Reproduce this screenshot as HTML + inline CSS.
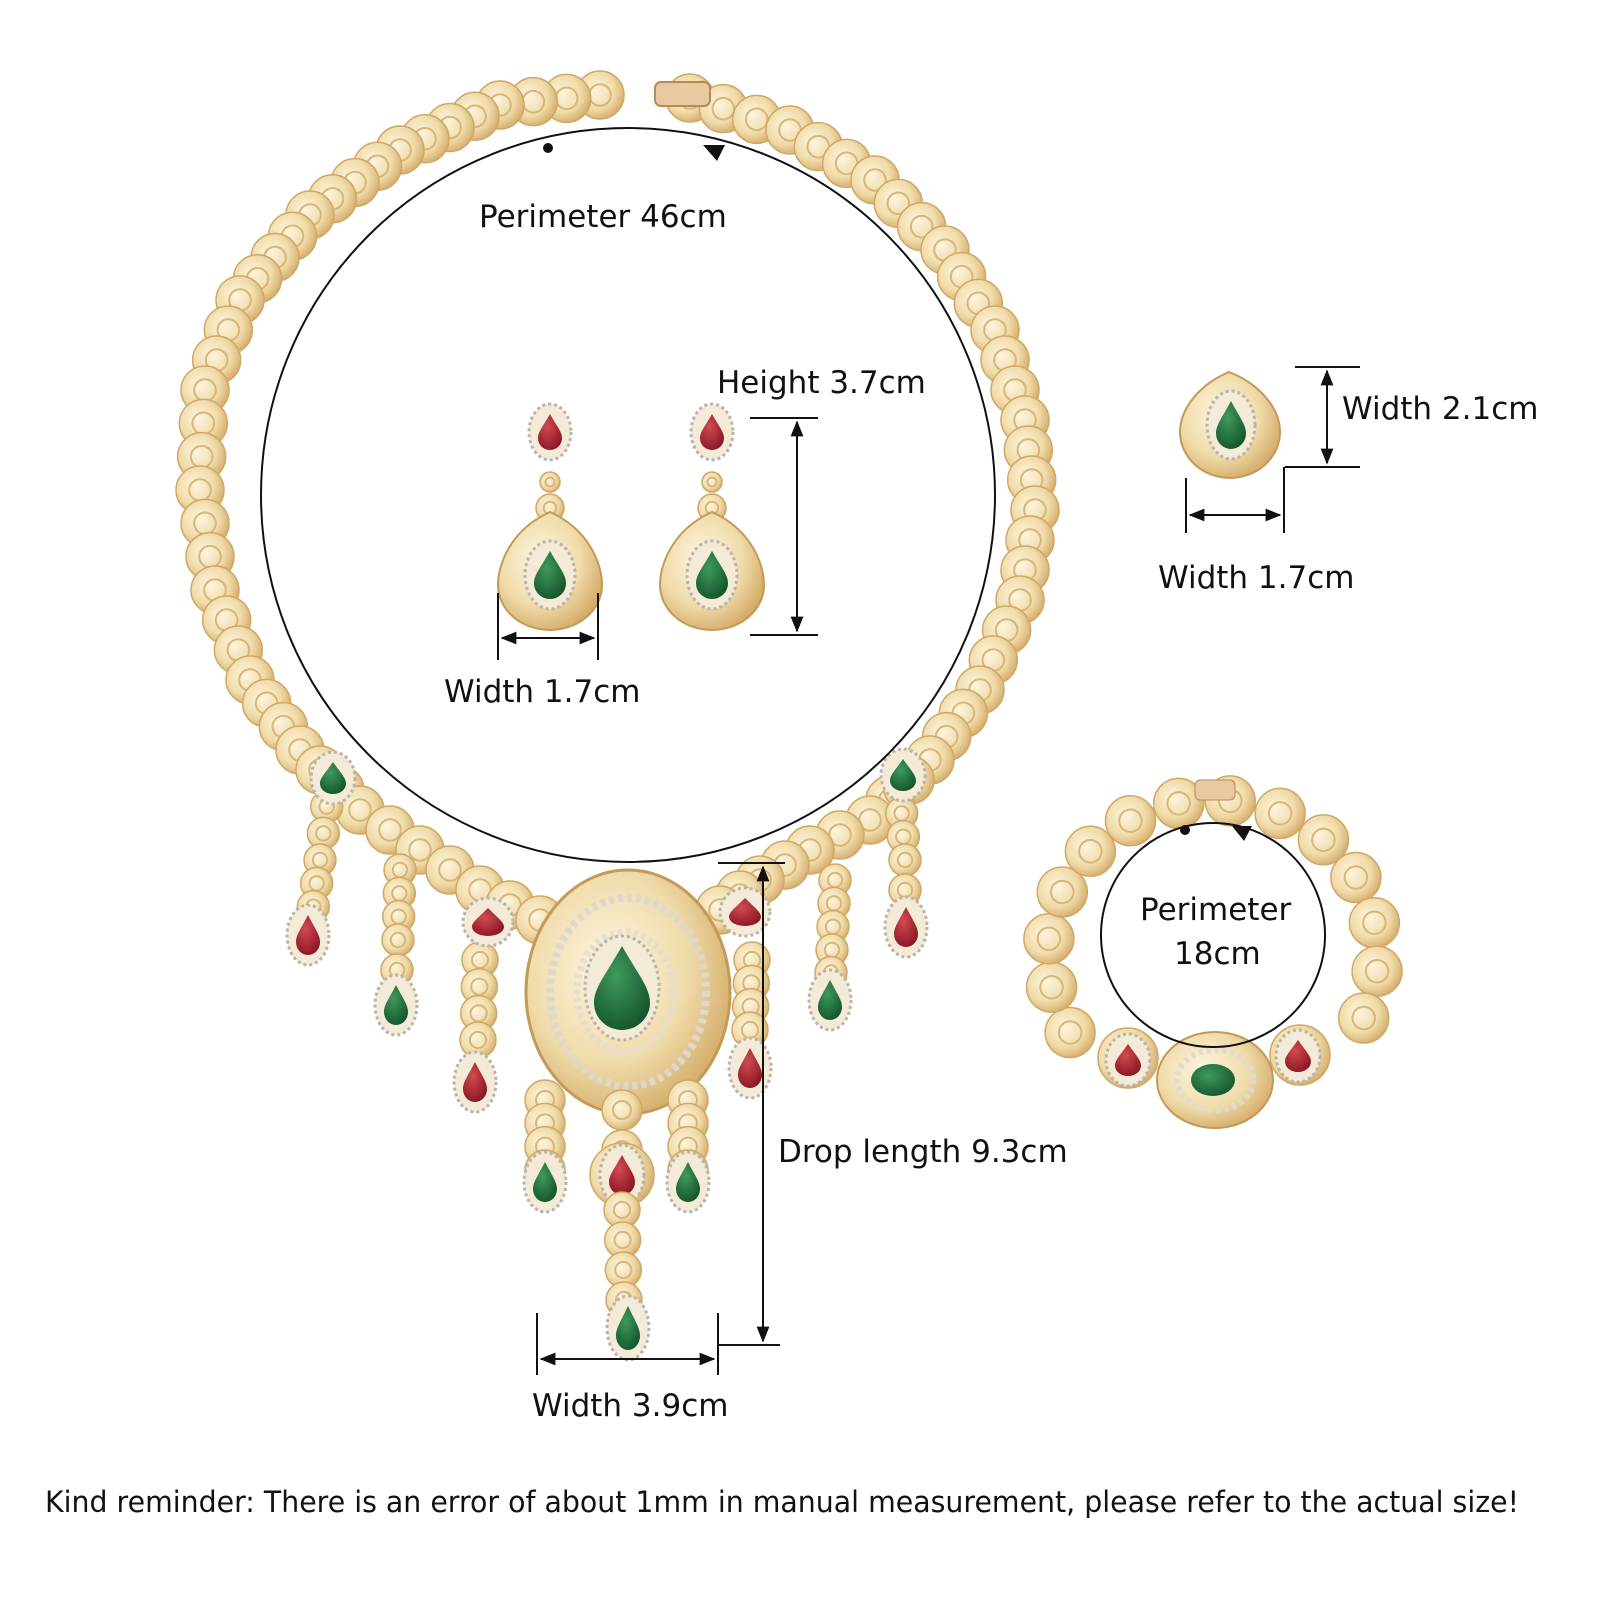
<!DOCTYPE html>
<html><head><meta charset="utf-8"><style>
html,body{margin:0;padding:0;background:#fff}
svg{display:block}
text{font-family:"DejaVu Sans","Liberation Sans",sans-serif;fill:#111}
</style></head><body>
<svg id="s" width="1600" height="1600" viewBox="0 0 1600 1600" xmlns="http://www.w3.org/2000/svg">
<defs>
<radialGradient id="g" cx="40%" cy="40%" r="65%"><stop offset="0" stop-color="#fdf5e0"/><stop offset="0.6" stop-color="#f0dcaa"/><stop offset="1" stop-color="#d3ab68"/></radialGradient>
<radialGradient id="gr" cx="40%" cy="35%" r="70%"><stop offset="0" stop-color="#3f9a5c"/><stop offset="1" stop-color="#14552d"/></radialGradient>
<radialGradient id="rd" cx="40%" cy="35%" r="70%"><stop offset="0" stop-color="#d24a52"/><stop offset="1" stop-color="#8a1624"/></radialGradient>
<marker id="ar" viewBox="0 0 10 10" refX="9" refY="5" markerWidth="8" markerHeight="8" orient="auto-start-reverse"><path d="M0,1 L10,5 L0,9 z" fill="#111"/></marker>
</defs>
<g id="jew"></g>
<g fill="none" stroke="#111" stroke-width="2">
<ellipse cx="628" cy="495" rx="367" ry="367"/>
<circle cx="1213" cy="935" r="112"/>
<line x1="750" y1="418" x2="818" y2="418"/><line x1="750" y1="635" x2="818" y2="635"/>
<line x1="797" y1="422" x2="797" y2="631" marker-start="url(#ar)" marker-end="url(#ar)"/>
<line x1="498" y1="593" x2="498" y2="660"/><line x1="598" y1="593" x2="598" y2="660"/>
<line x1="502" y1="638" x2="594" y2="638" marker-start="url(#ar)" marker-end="url(#ar)"/>
<line x1="1295" y1="367" x2="1360" y2="367"/><line x1="1285" y1="467" x2="1360" y2="467"/>
<line x1="1327" y1="371" x2="1327" y2="463" marker-start="url(#ar)" marker-end="url(#ar)"/>
<line x1="1186" y1="478" x2="1186" y2="533"/><line x1="1284" y1="467" x2="1284" y2="533"/>
<line x1="1190" y1="515" x2="1280" y2="515" marker-start="url(#ar)" marker-end="url(#ar)"/>
<line x1="718" y1="863" x2="785" y2="863"/><line x1="718" y1="1345" x2="780" y2="1345"/>
<line x1="763" y1="867" x2="763" y2="1341" marker-start="url(#ar)" marker-end="url(#ar)"/>
<line x1="537" y1="1313" x2="537" y2="1375"/><line x1="718" y1="1313" x2="718" y2="1375"/>
<line x1="541" y1="1359" x2="714" y2="1359" marker-start="url(#ar)" marker-end="url(#ar)"/>
</g>
<circle cx="548" cy="148" r="5" fill="#111"/>
<path d="M703,145 l22,0 l-8,16 z" fill="#111"/>
<circle cx="1185" cy="830" r="5" fill="#111"/>
<path d="M1232,826 l20,0 l-8,15 z" fill="#111"/>
<text x="479" y="227" font-size="31">Perimeter 46cm</text>
<text x="717" y="393" font-size="31">Height 3.7cm</text>
<text x="444" y="702" font-size="31">Width 1.7cm</text>
<text x="1342" y="419" font-size="31">Width 2.1cm</text>
<text x="1158" y="588" font-size="31">Width 1.7cm</text>
<text x="1140" y="920" font-size="31">Perimeter</text>
<text x="1174" y="964" font-size="31">18cm</text>
<text x="778" y="1162" font-size="31">Drop length 9.3cm</text>
<text x="532" y="1416" font-size="31">Width 3.9cm</text>
<text x="45" y="1512" font-size="29" textLength="1474" lengthAdjust="spacingAndGlyphs">Kind reminder: There is an error of about 1mm in manual measurement, please refer to the actual size!</text>
</svg>
<script>
const NS="http://www.w3.org/2000/svg",J=document.getElementById('jew');
function el(t,a){const e=document.createElementNS(NS,t);for(const k in a)e.setAttribute(k,a[k]);J.appendChild(e);return e;}
function bead(x,y,r){el('circle',{cx:x,cy:y,r:r,fill:'url(#g)',stroke:'#d0a766','stroke-width':1.5});el('circle',{cx:x,cy:y,r:r*0.45,fill:'none',stroke:'#d9b677','stroke-width':2});}
function chain(pts,step,r){for(let i=0;i<pts.length-1;i++){const[a,b]=pts[i],[c,d]=pts[i+1];const L=Math.hypot(c-a,d-b),n=Math.max(1,Math.round(L/step));for(let j=0;j<n;j++){bead(a+(c-a)*j/n,b+(d-b)*j/n,r);}}bead(...pts[pts.length-1],r);}
function drop(x,y,rx,ry,fill){el('ellipse',{cx:x,cy:y,rx:rx+9,ry:ry+10,fill:'#f3ead8',stroke:'#b9b3a8','stroke-width':3,'stroke-dasharray':'3 3'});
 el('path',{d:`M${x},${y-ry} C${x+rx*0.6},${y-ry*0.3} ${x+rx},${y} ${x+rx},${y+ry*0.35} A${rx},${ry*0.65} 0 0 1 ${x-rx},${y+ry*0.35} C${x-rx},${y} ${x-rx*0.6},${y-ry*0.3} ${x},${y-ry}z`,fill:fill});}
const L=[[600,95],[500,105],[400,150],[310,215],[240,300],[205,390],[200,490],[215,590],[250,680],[300,750],[360,810],[420,850],[480,890],[540,920]];
const R=[[690,98],[790,130],[875,180],[945,250],[995,330],[1025,420],[1035,510],[1020,600],[980,690],[930,760],[870,820],[810,850],[760,880],[720,910]];
chain(L,30,24);chain(R,30,24);
el('rect',{x:655,y:82,width:55,height:24,rx:6,fill:'#e8c9a0',stroke:'#b88a5a','stroke-width':2});
chain([[330,780],[320,860],[310,930]],28,16);drop(308,935,12,20,'url(#rd)');
chain([[400,870],[398,940],[396,1000]],28,16);drop(396,1005,12,20,'url(#gr)');
chain([[480,960],[478,1040],[475,1078]],28,18);drop(475,1082,12,20,'url(#rd)');
chain([[900,790],[905,860],[905,920]],28,16);drop(906,927,12,20,'url(#rd)');
chain([[835,880],[832,950],[830,995]],28,16);drop(830,1000,12,20,'url(#gr)');
chain([[752,960],[750,1030],[750,1062]],28,18);drop(750,1068,12,20,'url(#rd)');
drop(333,778,13,16,'url(#gr)');drop(903,775,13,16,'url(#gr)');
drop(488,922,16,14,'url(#rd)');drop(745,912,16,14,'url(#rd)');
el('ellipse',{cx:628,cy:992,rx:102,ry:122,fill:'url(#g)',stroke:'#c49a58','stroke-width':3});
el('ellipse',{cx:628,cy:992,rx:78,ry:94,fill:'none',stroke:'#ddd8cf','stroke-width':8,'stroke-dasharray':'5 4'});
el('ellipse',{cx:625,cy:992,rx:48,ry:60,fill:'none',stroke:'#e3ddd2','stroke-width':7,'stroke-dasharray':'4 4'});
drop(622,988,28,42,'url(#gr)');
chain([[545,1100],[545,1170]],28,20);drop(545,1182,12,20,'url(#gr)');
chain([[688,1100],[688,1170]],28,20);drop(688,1182,12,20,'url(#gr)');
chain([[622,1110],[622,1150]],28,20);bead(622,1175,32);drop(622,1175,13,20,'url(#rd)');
chain([[622,1210],[624,1300]],26,18);drop(628,1328,12,22,'url(#gr)');
for(const x of [550,712]){drop(x,432,12,18,'url(#rd)');bead(x,482,10);bead(x,508,14);
 el('path',{d:`M${x},512 C${x+40},530 ${x+52},565 ${x+52},585 A52,45 0 0 1 ${x-52},585 C${x-52},565 ${x-40},530 ${x},512z`,fill:'url(#g)',stroke:'#c49a58','stroke-width':2});
 drop(x,575,16,24,'url(#gr)');}
el('path',{d:'M1229,372 C1262,385 1280,410 1280,432 A50,46 0 0 1 1180,432 C1180,410 1198,385 1229,372z',fill:'url(#g)',stroke:'#c49a58','stroke-width':2});
drop(1231,425,15,24,'url(#gr)');
const B=[];for(let a=-210;a<=30;a+=18){const t=a*Math.PI/180;B.push([1213+165*Math.cos(t),955+155*Math.sin(t)]);}
for(const p of B)bead(p[0],p[1],25);
el('rect',{x:1195,y:780,width:40,height:20,rx:5,fill:'#e8c9a0',stroke:'#b88a5a'});
bead(1128,1058,30);bead(1300,1055,30);
el('ellipse',{cx:1215,cy:1080,rx:58,ry:48,fill:'url(#g)',stroke:'#c49a58','stroke-width':2});
el('ellipse',{cx:1215,cy:1080,rx:38,ry:30,fill:'none',stroke:'#e0dbd2','stroke-width':6,'stroke-dasharray':'4 4'});
drop(1128,1060,13,16,'url(#rd)');drop(1298,1056,13,16,'url(#rd)');
el('ellipse',{cx:1213,cy:1080,rx:22,ry:16,fill:'url(#gr)'});
</script>
</body></html>
